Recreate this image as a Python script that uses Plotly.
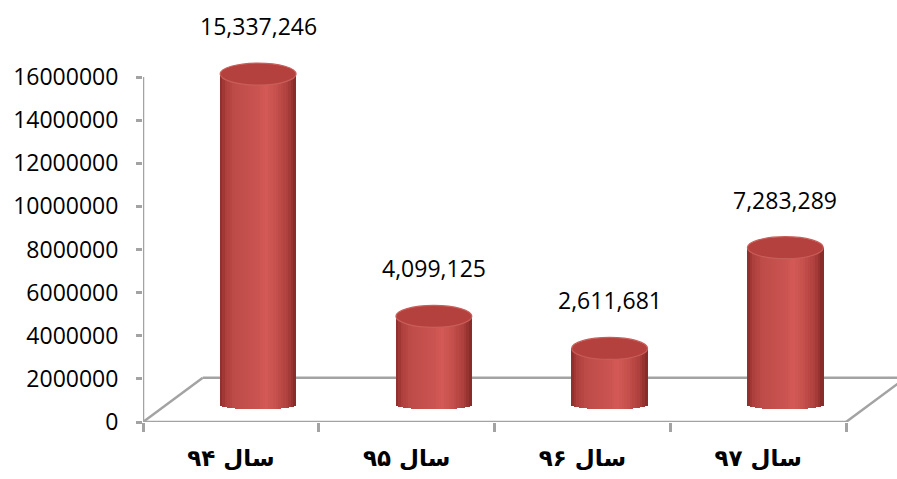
import math
import plotly.graph_objects as go

# ---- data ----
categories = ["سال ۹۴", "سال ۹۵", "سال ۹۶", "سال ۹۷"]
values = [15337246, 4099125, 2611681, 7283289]
value_labels = ["15,337,246", "4,099,125", "2,611,681", "7,283,289"]
y_ticks = [0, 2000000, 4000000, 6000000, 8000000, 10000000, 12000000, 14000000, 16000000]

# ---- style ----
PLOT_W = 754
X_UNIT_PX = 175.75
X_RANGE = [-0.5, -0.5 + PLOT_W / X_UNIT_PX]
Y_MAX = (422 - 20) / (21.5625) * 1e6
BASE = 0.8e6            # depth lift of cylinder base (3-D look)
SHIFT = 0.155           # depth shift of cylinders to the right
HW = 0.216              # cylinder half width (x units)
HH = 0.51e6             # top ellipse half height (y units)
HB = 0.22e6             # bottom ellipse half height (y units)
FLOOR_DX = 0.34         # floor back-edge shift (x units)
FLOOR_DY = 2.05e6       # floor back-edge lift (y units)
GRAY = "#a3a3a3"

stops = [(-1.0, (138, 44, 42)), (-0.85, (172, 62, 59)), (-0.6, (190, 76, 73)),
         (0.0, (202, 83, 80)), (0.22, (211, 90, 86)), (0.5, (197, 79, 76)),
         (0.8, (172, 62, 59)), (1.0, (130, 42, 40))]


def shade(u):
    for (a, ca), (b, cb) in zip(stops[:-1], stops[1:]):
        if a <= u <= b:
            t = (u - a) / (b - a)
            c = [round(ca[i] + (cb[i] - ca[i]) * t) for i in range(3)]
            return f"rgb({c[0]},{c[1]},{c[2]})"
    return "rgb(190,76,73)"


fig = go.Figure()
N = 30
xs = list(range(len(categories)))
for k in range(N):
    u = -1 + (k + 0.5) * 2 / N
    d = HB * math.sqrt(max(0.0, 1 - u * u))
    strip_w = 2 * HW / N
    fig.add_trace(go.Bar(
        x=xs,
        y=[v + d for v in values],
        base=BASE - d,
        width=strip_w * 1.25,
        offset=SHIFT - HW + k * strip_w - strip_w * 0.125,
        marker=dict(color=shade(u), line=dict(width=0)),
        hoverinfo="skip",
        showlegend=False,
    ))

shapes = []
# floor
floor_lines = [
    ((-0.5, 0), (3.5, 0)),
    ((-0.5, 0), (-0.5 + FLOOR_DX, FLOOR_DY)),
    ((-0.5 + FLOOR_DX, FLOOR_DY), (X_RANGE[1] + 0.2, FLOOR_DY)),
    ((3.5, 0), (3.5 + FLOOR_DX, FLOOR_DY)),
]
for (x0, y0), (x1, y1) in floor_lines:
    shapes.append(dict(type="line", xref="x", yref="y", x0=x0, y0=y0, x1=x1, y1=y1,
                       line=dict(color=GRAY, width=2.5), layer="below"))
# y axis line
shapes.append(dict(type="line", xref="x", yref="y", x0=-0.5, x1=-0.5, y0=0, y1=y_ticks[-1],
                   line=dict(color=GRAY, width=2.5), layer="below"))
# top ellipses
for i, v in enumerate(values):
    top = BASE + v
    shapes.append(dict(type="circle", xref="x", yref="y",
                       x0=i + SHIFT - HW, x1=i + SHIFT + HW,
                       y0=top - HH, y1=top + HH,
                       fillcolor="rgb(180,65,61)",
                       line=dict(color="rgb(200,94,89)", width=1.2), layer="above"))

annotations = []
for i, v in enumerate(values):
    annotations.append(dict(x=i + SHIFT, y=BASE + v, xref="x", yref="y",
                            text=value_labels[i], showarrow=False, yshift=48,
                            font=dict(family="Open Sans", size=23, color="black")))

fig.update_layout(
    width=897, height=479,
    margin=dict(l=143, r=0, t=20, b=57, autoexpand=False),
    paper_bgcolor="white", plot_bgcolor="white",
    barmode="overlay", bargap=0,
    shapes=shapes, annotations=annotations,
    showlegend=False,
    xaxis=dict(
        range=X_RANGE, showgrid=False, zeroline=False, showline=False, automargin=False,
        tickmode="array", tickvals=xs, ticktext=categories, ticks="",
        tickfont=dict(family="DejaVu Sans", size=23, color="black", weight="bold"),
        ticklabelstandoff=20,
        minor=dict(tickmode="array", tickvals=[-0.5, 0.5, 1.5, 2.5, 3.5], ticks="outside",
                   ticklen=9, tickcolor=GRAY, tickwidth=2.5, showgrid=False),
    ),
    yaxis=dict(
        range=[0, Y_MAX], showgrid=False, zeroline=False, showline=False, automargin=False,
        tickmode="array", tickvals=y_ticks, ticktext=[str(t) for t in y_ticks],
        ticks="outside", ticklen=6, tickcolor=GRAY, tickwidth=2.5,
        tickfont=dict(family="Open Sans", size=23, color="black"),
        ticklabelstandoff=13,
    ),
)

fig.write_html("out.html", config={"displayModeBar": False},
               post_script="document.body.style.margin='0';")
